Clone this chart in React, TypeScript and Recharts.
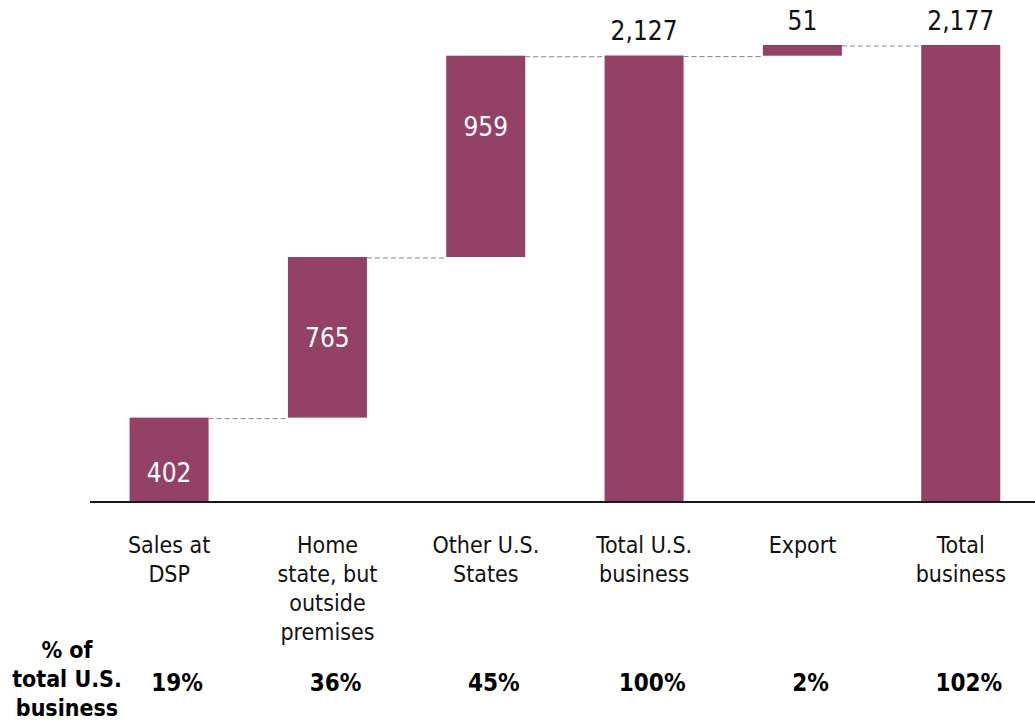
import React from 'react';
import { BarChart, Bar, XAxis, YAxis, LabelList } from 'recharts';

const categories = ['Sales at DSP', 'Home state, but outside premises', 'Other U.S. States', 'Total U.S. business', 'Export', 'Total business'];
const categoryLines = [['Sales at', 'DSP'], ['Home', 'state, but', 'outside', 'premises'], ['Other U.S.', 'States'], ['Total U.S.', 'business'], ['Export'], ['Total', 'business']];
const values = [402, 765, 959, 2127, 51, 2177];
const bases = [0, 402, 1167, 0, 2126, 0];
const valueLabels = ['402', '765', '959', '2,127', '51', '2,177'];
const shareLabels = ['19%', '36%', '45%', '100%', '2%', '102%'];
const shareTitle = ['% of', 'total U.S.', 'business'];

const data = categories.map((name, i) => ({
  name,
  range: [bases[i], bases[i] + values[i]],
  label: valueLabels[i],
}));

const FONT = "'DejaVu Sans Condensed', 'DejaVu Sans', sans-serif";
const BAR = '#934266';

const WaterfallBar = (props: any) => {
  const { x, y, width, height, index } = props;
  return (
    <g>
      <rect x={x} y={y} width={width} height={height} fill={BAR} />
      {index < categories.length - 1 && (
        <line x1={x + width} x2={x + 2 * width} y1={y + 1} y2={y + 1} stroke="#858585" strokeWidth={1} strokeDasharray="5 3" />
      )}
    </g>
  );
};

const ValueLabel = (props: any) => {
  const { x, y, width, height, index, value } = props;
  const cx = x + width / 2;
  if (index >= 3) {
    return (
      <text x={cx} y={y - 15} textAnchor="middle" fontFamily={FONT} fontSize={26} fill="#111">{value}</text>
    );
  }
  let by = y + height / 2 + 10;
  if (index === 0) by = y + height - 20;
  if (index === 2) by = y + 80;
  return (
    <text x={cx} y={by} textAnchor="middle" fontFamily={FONT} fontSize={26} fill="#fff">{value}</text>
  );
};

const CategoryTick = (props: any) => {
  const { x, y, payload } = props;
  const i = payload.index;
  const lines = categoryLines[i] || [];
  return (
    <g>
      <text textAnchor="middle" fontFamily={FONT} fontSize={23} fill="#111">
        {lines.map((l, k) => (
          <tspan key={k} x={x} y={y + 51 + k * 29}>{l}</tspan>
        ))}
      </text>
      <text x={x + 8} y={y + 189} textAnchor="middle" fontFamily={FONT} fontSize={24} fontWeight="bold" fill="#000">
        {shareLabels[i]}
      </text>
    </g>
  );
};

export default function App() {
  return (
    <div style={{ position: 'absolute', left: 0, top: 0, width: 1035, height: 721, overflow: 'hidden', background: '#fff' }}>
      <BarChart width={1040} height={721} data={data} margin={{ top: 45, right: 0, left: 90, bottom: 0 }} barCategoryGap="25%">
        <XAxis
          dataKey="name"
          height={219}
          interval={0}
          tickLine={false}
          tickSize={0}
          tickMargin={0}
          axisLine={{ stroke: '#1a1a1a', strokeWidth: 2 }}
          tick={<CategoryTick />}
        />
        <YAxis hide domain={[0, 2177]} />
        <Bar dataKey="range" isAnimationActive={false} shape={<WaterfallBar />}>
          <LabelList dataKey="label" content={<ValueLabel />} />
        </Bar>
      </BarChart>
      <div style={{ position: 'absolute', left: 0, top: 636, width: 134, textAlign: 'center', fontFamily: FONT, fontWeight: 'bold', fontSize: 23, lineHeight: '29px', color: '#000' }}>
        {shareTitle.map((t, k) => (<div key={k}>{t}</div>))}
      </div>
    </div>
  );
}
